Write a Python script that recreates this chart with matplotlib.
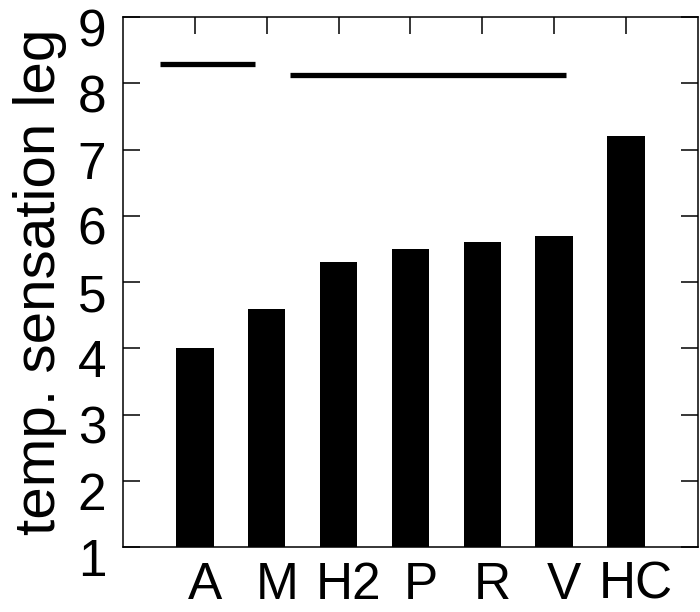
import matplotlib
matplotlib.use("Agg")
import matplotlib.pyplot as plt
import matplotlib.transforms as mtransforms

plt.rcParams["font.family"] = ["Liberation Sans", "DejaVu Sans"]

# bar data
groups = ["A", "M", "H2", "P", "R", "V", "HC"]
values = [4.0, 4.6, 5.3, 5.5, 5.6, 5.7, 7.2]

# significance lines: start, end (in bar index units), height
line_starts = [-0.49, 1.33]
line_ends = [0.83, 5.17]
line_heights = [8.29, 8.13]

fig = plt.figure(figsize=(7, 6.12), dpi=100)
ax = fig.add_axes([0.1757, 0.1062, 0.8213, 0.866])

x = list(range(len(groups)))
base = 1
ax.bar(x, [v - base for v in values], bottom=base, width=0.52, color="black")

for xs, xe, yh in zip(line_starts, line_ends, line_heights):
    ax.plot([xs, xe], [yh, yh], color="black", linewidth=3.8, solid_capstyle="butt")

ax.set_xlim(-1, 7)
ax.set_ylim(1, 9)
ax.set_yticks(range(1, 10))
ax.set_xticks(x)
ax.set_xticklabels(groups)

ax.tick_params(axis="x", bottom=False, top=True, direction="in", length=12,
               width=1.1, labelsize=37, pad=10)
ax.tick_params(axis="y", left=True, right=True, direction="in", length=12,
               width=1.1, labelsize=37, pad=12)
for s in ax.spines.values():
    s.set_linewidth(1.1)

ax.set_ylabel("temp. sensation leg", fontsize=42, labelpad=8)

# labels sit a bit lower / to the right in the original
down = mtransforms.ScaledTranslation(0, -10 / 100, fig.dpi_scale_trans)
for lab in ax.get_yticklabels():
    lab.set_transform(lab.get_transform() + down)
right = mtransforms.ScaledTranslation(10 / 100, 0, fig.dpi_scale_trans)
for lab in ax.get_xticklabels():
    lab.set_transform(lab.get_transform() + right)

fig.savefig("out.png", dpi=100)
